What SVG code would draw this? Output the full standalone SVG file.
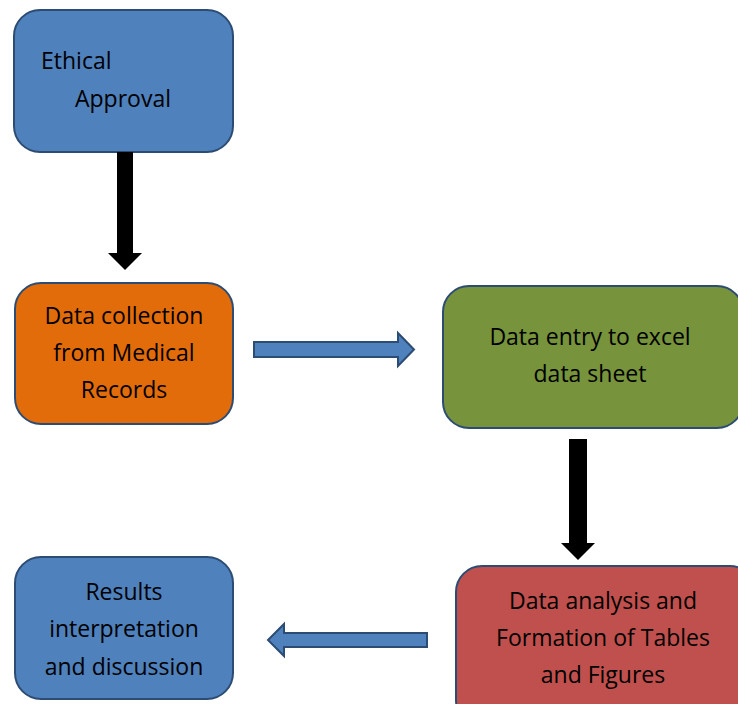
<svg xmlns="http://www.w3.org/2000/svg" width="738" height="704" viewBox="0 0 738 704">
  <defs>
    <style>
      .box { stroke: #2C4C74; stroke-width: 2; }
      .blue { fill: #4F81BD; }
      .orange { fill: #E36C0A; }
      .green { fill: #77933C; }
      .red { fill: #C0504D; }
      .lbl { font-family: "Open Sans", "Liberation Sans", sans-serif; font-size: 23px; fill: #000; }
      .mid { text-anchor: middle; }
      .fat { fill: #000; }
      .flat { fill: #4F81BD; stroke: #2C4C74; stroke-width: 2; }
    </style>
  </defs>
  <rect width="738" height="704" fill="#fff"/>

  <g id="ethical-approval">
    <rect class="box blue" x="14" y="10" width="219" height="142" rx="26"/>
    <text class="lbl" x="41" y="69">Ethical</text>
    <text class="lbl" x="75" y="107">Approval</text>
  </g>

  <g id="data-collection">
    <rect class="box orange" x="15" y="283" width="218" height="141" rx="26"/>
    <text class="lbl mid" x="124" y="324">Data collection</text>
    <text class="lbl mid" x="124" y="361">from Medical</text>
    <text class="lbl mid" x="124" y="398">Records</text>
  </g>

  <g id="data-entry">
    <rect class="box green" x="443" y="286" width="300" height="142" rx="26"/>
    <text class="lbl mid" x="590" y="345">Data entry to excel</text>
    <text class="lbl mid" x="590" y="382">data sheet</text>
  </g>

  <g id="data-analysis">
    <rect class="box red" x="456" y="566" width="300" height="160" rx="26"/>
    <text class="lbl mid" x="603" y="609">Data analysis and</text>
    <text class="lbl mid" x="603" y="646">Formation of Tables</text>
    <text class="lbl mid" x="603" y="683">and Figures</text>
  </g>

  <g id="results">
    <rect class="box blue" x="15" y="557" width="218" height="142" rx="26"/>
    <text class="lbl mid" x="124" y="600">Results</text>
    <text class="lbl mid" x="124" y="637">interpretation</text>
    <text class="lbl mid" x="124" y="675">and discussion</text>
  </g>

  <g id="connectors">
    <!-- approval to collection -->
    <polygon class="fat" points="117,152 133,152 133,253 142,253 125,270 108,253 117,253"/>
    <!-- collection to entry -->
    <polygon class="flat" points="254,342 398,342 398,333 414,349.5 398,366 398,357 254,357"/>
    <!-- entry to analysis -->
    <polygon class="fat" points="569,439 587,439 587,543 595,543 578,560 561,543 569,543"/>
    <!-- analysis to results -->
    <polygon class="flat" points="427,633 284,633 284,624 268,640 284,656 284,647 427,647"/>
  </g>
</svg>
